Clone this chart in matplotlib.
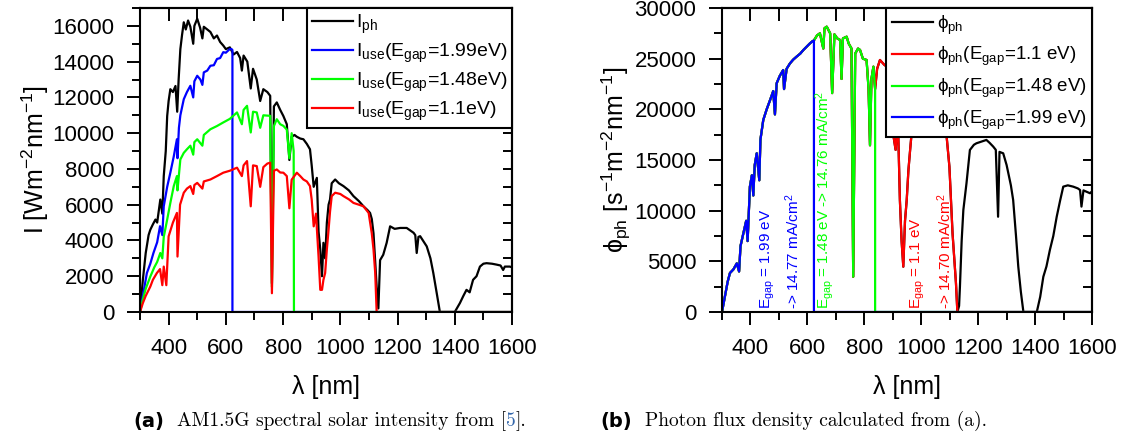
import numpy as np
import matplotlib
matplotlib.use('Agg')
import matplotlib.pyplot as plt
from matplotlib.ticker import MultipleLocator

plt.rcParams['font.family'] = ['Liberation Sans', 'DejaVu Sans']
plt.rcParams['mathtext.fontset'] = 'custom'
plt.rcParams['mathtext.rm'] = 'Liberation Sans'
plt.rcParams['mathtext.it'] = 'Liberation Sans:italic'
plt.rcParams['mathtext.default'] = 'regular'

# ---------------- data (left panel: intensity) ----------------
lam_ph = [300, 310, 320, 330, 336, 345, 354, 360, 371, 378, 383, 390, 395, 400, 406, 415, 424, 430, 435,
          441, 447, 453, 460, 468, 476, 486, 490, 500, 510, 518, 523, 535, 546, 558, 569, 580, 591, 600,
          614, 627, 639, 650, 656, 662, 675, 687, 695, 708, 720, 731, 745, 755, 761, 768, 778, 790, 801,
          813, 822, 830, 840, 848, 860, 871, 883, 894, 900, 907, 918, 924, 930, 936, 941, 947, 953, 959,
          964, 970, 982, 995, 1011, 1030, 1046, 1065, 1081, 1095, 1104, 1110, 1116, 1122, 1127, 1133,
          1139, 1150, 1162, 1174, 1190, 1209, 1232, 1256, 1262, 1267, 1273, 1279, 1302, 1315, 1325, 1337,
          1348, 1400, 1418, 1430, 1441, 1452, 1464, 1476, 1488, 1500, 1511, 1530, 1546, 1560, 1569, 1575,
          1592, 1600]
I_ph = [0, 1800, 3300, 4300, 4600, 4900, 5170, 5000, 6290, 5500, 7600, 9000, 10960, 11800, 12460, 12300,
        12640, 11200, 13000, 14700, 15500, 16200, 15800, 16300, 15950, 15000, 16000, 16400, 15900, 15300,
        15950, 15800, 15660, 15300, 15460, 15100, 14900, 14700, 14800, 14400, 14540, 14200, 13500, 14340,
        14000, 12500, 13600, 13000, 11800, 12460, 12300, 12090, 1600, 11500, 11720, 11300, 10960, 10500,
        8500, 9800, 9900, 9800, 9700, 9660, 9400, 9100, 8200, 7000, 7500, 4500, 3500, 2000, 3870, 3000,
        5000, 6000, 6290, 7200, 7410, 7200, 7040, 6800, 6480, 6200, 5910, 5700, 5540, 5200, 4400, 2800,
        1420, 200, 2900, 3200, 3870, 4790, 4650, 4700, 4700, 4430, 4300, 3300, 4200, 4240, 3670, 3000,
        2180, 1050, 0, 0, 500, 900, 1240, 1100, 1800, 2000, 2540, 2700, 2730, 2700, 2650, 2600, 2350,
        2540, 2540, 2500]

lam_use_199 = [300, 310, 324, 336, 347, 360, 370, 378, 383, 395, 406, 418, 429, 431, 436, 441, 453, 464,
               476, 486, 490, 500, 511, 518, 523, 535, 546, 558, 569, 580, 591, 600, 614, 620, 623]
I_use_199 = [0, 900, 2180, 2700, 3300, 3900, 4800, 4300, 5910, 7000, 7790, 8700, 9660, 8600, 10300,
             11000, 11900, 12300, 12650, 12000, 12900, 13210, 13000, 12700, 13400, 13500, 13770, 13800,
             14150, 14200, 14530, 14500, 14710, 14700, 14650]

lam_use_148 = [300, 310, 320, 336, 350, 360, 371, 378, 383, 395, 406, 418, 429, 431, 441, 453, 464, 476,
               486, 490, 500, 518, 523, 546, 569, 591, 614, 639, 656, 662, 674, 687, 695, 708, 720, 731,
               755, 761, 768, 778, 790, 801, 813, 822, 830, 837]
I_use_148 = [0, 700, 1300, 1980, 2500, 2800, 3300, 3000, 4200, 5170, 6100, 7040, 7600, 6800, 8530, 8900,
             9100, 9300, 8800, 9500, 9660, 9300, 9900, 10220, 10400, 10600, 10800, 11160, 10500, 11300,
             11530, 10040, 11200, 11160, 10300, 11000, 10970, 1400, 10400, 10780, 10500, 10410, 10200,
             8600, 10000, 9000]

lam_use_11 = [300, 310, 320, 336, 345, 359, 370, 378, 383, 392, 400, 415, 429, 431, 440, 453, 464, 476,
              486, 490, 500, 518, 523, 546, 569, 591, 614, 639, 656, 662, 674, 687, 695, 708, 720, 731,
              745, 755, 761, 768, 778, 790, 801, 813, 822, 830, 848, 860, 871, 883, 894, 900, 907, 915,
              924, 930, 936, 941, 947, 953, 959, 964, 970, 982, 1000, 1011, 1030, 1046, 1065, 1081, 1099,
              1110, 1116, 1122, 1127]
I_use_11 = [0, 500, 900, 1420, 1800, 2180, 2400, 1500, 2540, 1500, 4230, 5000, 5540, 3100, 6000, 6670,
            6900, 7040, 6600, 7100, 7220, 6900, 7300, 7410, 7600, 7790, 7900, 8070, 7600, 8200, 8440,
            5910, 8200, 8160, 7000, 8100, 8300, 8350, 1050, 7900, 7970, 7800, 7790, 7600, 5800, 7400,
            7790, 7600, 7410, 7300, 7040, 6290, 4790, 5500, 3100, 1240, 1240, 1800, 2180, 3500, 4600,
            5600, 6480, 6670, 6600, 6480, 6300, 6100, 6000, 5910, 5540, 4400, 3500, 2180, 0]

cut_199, cut_148, cut_11 = 623, 838, 1127   # band-gap cut-off wavelengths (nm)

# ---------------- data (right panel: photon flux) ----------------
lam_phi = [300, 310, 320, 328, 340, 352, 360, 365, 375, 385, 390, 398, 405, 410, 415, 422, 431, 435, 445,
           457, 469, 480, 486, 492, 503, 515, 518, 527, 539, 550, 562, 575, 586, 598, 609, 617, 623, 634,
           644, 656, 660, 668, 680, 687, 695, 705, 715, 720, 725, 738, 745, 755, 761, 768, 778, 785, 795,
           808, 815, 820, 825, 832, 838, 845, 855, 870, 879, 890, 896, 901, 910, 918, 925, 931, 937, 943,
           949, 955, 961, 972, 985, 1000, 1020, 1040, 1060, 1075, 1087, 1099, 1110, 1122, 1127, 1133,
           1136, 1142, 1148, 1159, 1171, 1185, 1194, 1210, 1229, 1240, 1253, 1262, 1270, 1275, 1288,
           1300, 1315, 1323, 1333, 1341, 1350, 1359, 1406, 1418, 1429, 1440, 1452, 1464, 1476, 1488,
           1499, 1515, 1534, 1550, 1558, 1563, 1570, 1593, 1600]
phi_ph = [0, 1500, 3000, 3850, 4200, 4800, 4000, 6500, 7760, 9000, 7000, 12370, 13500, 11500, 14500,
          15660, 13000, 17000, 18950, 20000, 20920, 21800, 19500, 22570, 23300, 23880, 22000, 24000,
          24540, 24900, 25200, 25500, 25860, 26200, 26510, 26700, 26800, 27300, 27500, 26000, 28000,
          28160, 27500, 21600, 27400, 27000, 26840, 23000, 27000, 27170, 26500, 26000, 3480, 25500,
          26000, 25860, 25000, 24870, 22000, 16450, 23000, 24210, 22000, 24000, 24870, 24400, 24210,
          22000, 21250, 17630, 16000, 19000, 11050, 7000, 4470, 9000, 11050, 14000, 16000, 19500, 20500,
          20500, 20300, 20200, 20000, 19500, 18000, 14340, 7770, 2860, 0, 600, 2500, 7000, 10070, 12700,
          15990, 16500, 16650, 16800, 16980, 16700, 16320, 16000, 9400, 15800, 15660, 14500, 12500,
          11050, 7500, 4470, 2000, 0, 0, 1500, 3480, 4500, 6120, 7500, 9400, 11000, 12370, 12500, 12370,
          12200, 12040, 10400, 12000, 11720, 11900]

W, H = 1126, 441
fig = plt.figure(figsize=(W / 100, H / 100), dpi=100)

def px_axes(x0, x1, ytop, ybot):
    return fig.add_axes([x0 / W, 1 - ybot / H, (x1 - x0) / W, (ybot - ytop) / H])

ax1 = px_axes(140, 512, 8, 312)
ax2 = px_axes(722, 1092, 8, 312)

LW = 1.6
BLUE, GREEN, RED = '#0000ff', '#00ff00', '#ff0000'

def with_cut(lam, val, cut):
    return list(lam) + [cut, 1600], list(val) + [0, 0]

# left panel
ax1.plot(lam_ph, I_ph, color='black', lw=LW, label=r'I$_{ph}$')
x, y = with_cut(lam_use_199, I_use_199, cut_199)
ax1.plot(x, y, color=BLUE, lw=LW, label=r'I$_{use}$(E$_{gap}$=1.99eV)')
x, y = with_cut(lam_use_148, I_use_148, cut_148)
ax1.plot(x, y, color=GREEN, lw=LW, label=r'I$_{use}$(E$_{gap}$=1.48eV)')
x, y = with_cut(lam_use_11, I_use_11, cut_11)
ax1.plot(x, y, color=RED, lw=LW, label=r'I$_{use}$(E$_{gap}$=1.1eV)')
ax1.set_ylim(0, 17000)
ax1.yaxis.set_major_locator(MultipleLocator(2000))
ax1.yaxis.set_minor_locator(MultipleLocator(1000))

# right panel
lp = np.array(lam_phi, dtype=float)
pp = np.array(phi_ph, dtype=float)
ax2.plot(lp, pp, color='black', lw=LW, label='ϕ$_{ph}$')
for cut, col, lab in [(cut_11, RED, 'ϕ$_{ph}$(E$_{gap}$=1.1 eV)'),
                      (cut_148, GREEN, 'ϕ$_{ph}$(E$_{gap}$=1.48 eV)'),
                      (cut_199, BLUE, 'ϕ$_{ph}$(E$_{gap}$=1.99 eV)')]:
    m = lp <= cut
    x, y = with_cut(lp[m], pp[m], cut)
    ax2.plot(x, y, color=col, lw=LW, label=lab)
ax2.set_ylim(0, 30000)
ax2.yaxis.set_major_locator(MultipleLocator(5000))
ax2.yaxis.set_minor_locator(MultipleLocator(2500))

ann = [(462, 'E$_{gap}$ = 1.99 eV', BLUE), (549, '-> 14.77 mA/cm$^{2}$', BLUE),
       (662, 'E$_{gap}$ = 1.48 eV -> 14.76 mA/cm$^{2}$', GREEN),
       (989, 'E$_{gap}$ = 1.1 eV', RED), (1084, '-> 14.70 mA/cm$^{2}$', RED)]
for xx, t, c in ann:
    ax2.text(xx, 250, t, rotation=90, color=c, fontsize=11, ha='center', va='bottom')

for ax in (ax1, ax2):
    ax.set_xlim(300, 1600)
    ax.xaxis.set_major_locator(MultipleLocator(200))
    ax.xaxis.set_minor_locator(MultipleLocator(100))
    for s in ax.spines.values():
        s.set_linewidth(1.5)
    ax.tick_params(which='both', direction='out', width=1.4, labelsize=16, pad=9)
    ax.tick_params(which='major', length=9.4)
    ax.tick_params(which='minor', length=5.8)
    ax.set_xlabel('λ [nm]', fontsize=18, labelpad=12)
    sx = ax.secondary_xaxis('top')
    sx.xaxis.set_major_locator(MultipleLocator(200))
    sx.xaxis.set_minor_locator(MultipleLocator(100))
    sx.tick_params(which='both', direction='in', width=1.4, labeltop=False, length=9)
    sy = ax.secondary_yaxis('right')
    sy.yaxis.set_major_locator(ax.yaxis.get_major_locator())
    sy.yaxis.set_minor_locator(ax.yaxis.get_minor_locator())
    sy.tick_params(which='both', direction='in', width=1.4, labelright=False, length=6.5)
    for s in list(sx.spines.values()) + list(sy.spines.values()):
        s.set_linewidth(1.5)

leg1 = ax1.legend(loc='upper right', bbox_to_anchor=(1, 1), borderaxespad=0, fancybox=False,
                  edgecolor='black', framealpha=1, fontsize=14, handlelength=2.1,
                  handletextpad=0.15, labelspacing=0.3, borderpad=0.25)
leg1.get_frame().set_linewidth(1.5)
leg2 = ax2.legend(loc='upper right', bbox_to_anchor=(1, 1), borderaxespad=0, fancybox=False,
                  edgecolor='black', framealpha=1, fontsize=13.5, handlelength=2.2,
                  handletextpad=0.2, labelspacing=0.45, borderpad=0.3)
leg2.get_frame().set_linewidth(1.5)

ax1.set_ylabel('I [Wm$^{-2}$nm$^{-1}$]', fontsize=18, labelpad=1)
ax2.set_ylabel('ϕ$_{ph}$ [s$^{-1}$m$^{-2}$nm$^{-1}$]', fontsize=18, labelpad=1)

# captions
fig.canvas.draw()
r = fig.canvas.get_renderer()

def caption(x, parts, y=421):
    for t, kw in parts:
        tt = fig.text(x / W, 1 - y / H, t, va='center', ha='left', **kw)
        bb = tt.get_window_extent(r)
        x += bb.width

serif = dict(family='cmr10', fontsize=14)
bold = dict(family=['Liberation Sans Narrow', 'DejaVu Sans'], fontweight='bold', fontsize=14)
caption(133, [('(a)', bold), ('  AM1.5G spectral solar intensity from [', serif),
              ('5', dict(serif, color='#3366aa')), ('].', serif)])
caption(600, [('(b)', bold), ('  Photon flux density calculated from (a).', serif)])

fig.savefig('out.png', dpi=100)
